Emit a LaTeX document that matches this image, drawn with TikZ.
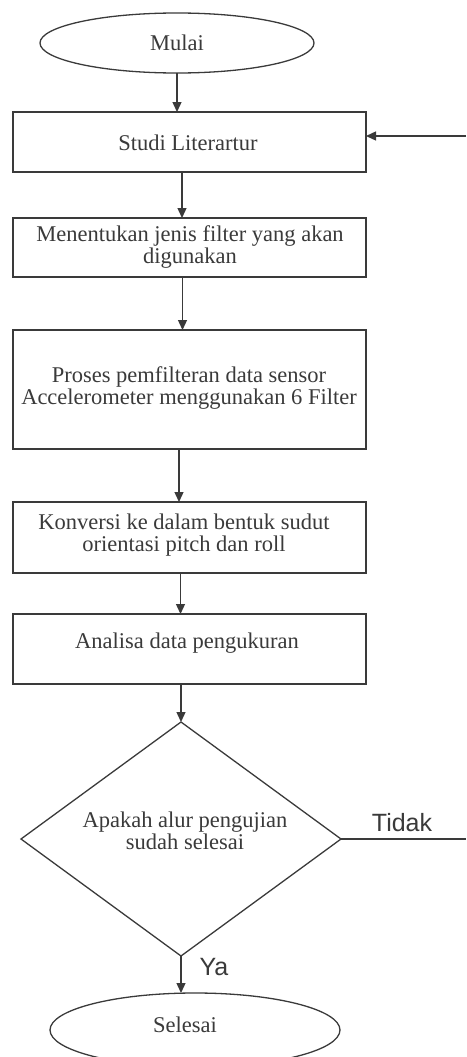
\documentclass[tikz,border=0pt]{standalone}
\usepackage{fontspec}
\setmainfont{Liberation Serif}
\newfontfamily\labelfont{Liberation Sans}
\usetikzlibrary{shapes.geometric,arrows.meta}
\definecolor{ink}{HTML}{3A3A3A}
\begin{document}
\begin{tikzpicture}[x=1pt,y=-1pt,
  every node/.style={inner sep=0pt,outer sep=0pt,text=ink},
  line/.style={draw=ink,line width=1.3pt},
  arr/.style={line,-{Triangle[length=10pt,width=9pt]}},
  procbox/.style={line,rectangle,minimum width=353pt,align=center,font=\fontsize{22.5}{21.5}\selectfont},
  term/.style={line,ellipse,font=\fontsize{22.5}{21.5}\selectfont},
  decision/.style={line,diamond,minimum width=320pt,minimum height=234pt},
  lbl/.style={font=\labelfont\fontsize{25}{25}\selectfont}]
\clip (0,0) rectangle (466,1057);
\node[term,minimum width=274pt,minimum height=60pt] (mulai) at (177,43) {Mulai};
\node[procbox,minimum height=60pt] (studi) at (189.5,142) {};
\node (studit) at (188,143) {\fontsize{22.5}{21.5}\selectfont Studi Literartur};
\node[procbox,minimum height=59pt] (jenis) at (189.5,247.5) {};
\node[align=center,font=\fontsize{22.5}{21.5}\selectfont] (jenist) at (190,247) {Menentukan jenis filter yang akan\\digunakan};
\node[procbox,minimum height=119pt] (proses) at (189.5,389.5) {};
\node[align=center,font=\fontsize{22.5}{21.5}\selectfont] (prosest) at (189,388) {Proses pemfilteran data sensor\\Accelerometer menggunakan 6 Filter};
\node[procbox,minimum height=71pt] (konv) at (189.5,537.5) {};
\node[align=center,font=\fontsize{22.5}{21.5}\selectfont] (konvt) at (184,535) {Konversi ke dalam bentuk sudut\\orientasi pitch dan roll};
\node[procbox,minimum height=70pt] (anal) at (189.5,649) {};
\node[font=\fontsize{22.5}{21.5}\selectfont] (analt) at (187,643) {Analisa data pengukuran};
\node[decision] (dec) at (181,839) {};
\node[align=center,font=\fontsize{22.5}{21.5}\selectfont] (dect) at (185,831) {Apakah alur pengujian\\sudah selesai};
\node[term,minimum width=290pt,minimum height=74pt] (selesai) at (195,1030) {};
\node[font=\fontsize{22.5}{21.5}\selectfont] (selesait) at (185,1025) {Selesai};
\coordinate (tidakend) at (466,839);
\coordinate (loopin) at (466,136);
\node[lbl] (tidak) at (402,823) {Tidak};
\node[lbl] (ya) at (214,967) {Ya};
\draw[arr] (mulai.south) -- (mulai.south |- studi.north);
\draw[arr] (loopin) -- (loopin -| studi.east);
\draw[arr] ([xshift=-7.5pt]studi.south) -- ([xshift=-7.5pt]studi.south |- jenis.north);
\draw[arr] ([xshift=-7pt]jenis.south) -- ([xshift=-7pt]jenis.south |- proses.north);
\draw[arr] ([xshift=-10.5pt]proses.south) -- ([xshift=-10.5pt]proses.south |- konv.north);
\draw[arr] ([xshift=-9pt]konv.south) -- ([xshift=-9pt]konv.south |- anal.north);
\draw[arr] (anal.south -| dec.north) -- (dec.north);
\draw[line] (dec.east) -- (tidakend);
\draw[arr] (dec.south) -- (dec.south |- selesai.north);
\end{tikzpicture}
\end{document}
